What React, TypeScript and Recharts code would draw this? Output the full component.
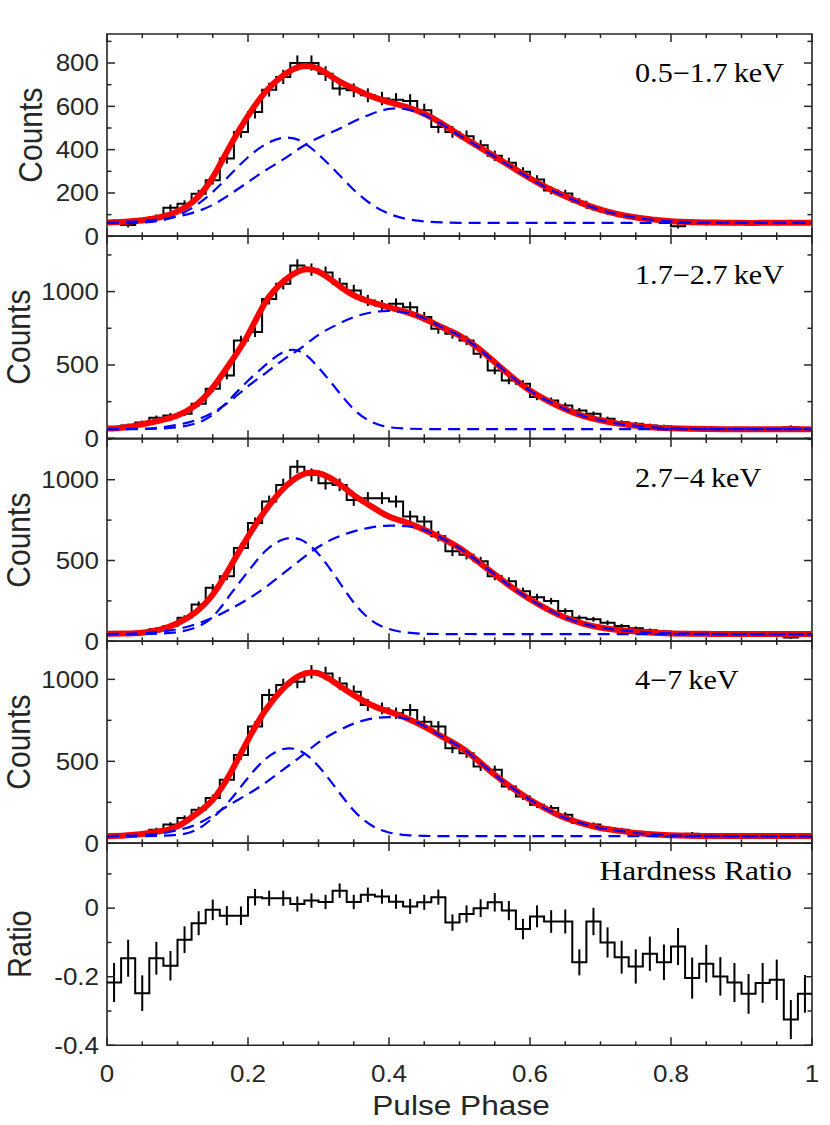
import React from "react";
import { ComposedChart, Line, Scatter, ErrorBar, XAxis, YAxis, ReferenceArea } from "recharts";

// bin centres of the 50 phase bins
const BIN_CENTERS = [
  0.01, 0.03, 0.05, 0.07, 0.09, 0.11, 0.13, 0.15, 0.17, 0.19,
  0.21, 0.23, 0.25, 0.27, 0.29, 0.31, 0.33, 0.35, 0.37, 0.39,
  0.41, 0.43, 0.45, 0.47, 0.49, 0.51, 0.53, 0.55, 0.57, 0.59,
  0.61, 0.63, 0.65, 0.67, 0.69, 0.71, 0.73, 0.75, 0.77, 0.79,
  0.81, 0.83, 0.85, 0.87, 0.89, 0.91, 0.93, 0.95, 0.97, 0.99,
];

// phases where the fitted curves were read
const CURVE_PHASE = [
  0, 0.025, 0.05, 0.075, 0.1, 0.125, 0.15, 0.175, 0.2, 0.225,
  0.25, 0.275, 0.3, 0.325, 0.35, 0.375, 0.4, 0.425, 0.45, 0.475,
  0.5, 0.525, 0.55, 0.575, 0.6, 0.625, 0.65, 0.675, 0.7, 0.725,
  0.75, 0.775, 0.8, 0.825, 0.85, 0.875, 0.9, 0.925, 0.95, 0.975, 1,
];

const X_TICKS = [0, 0.05, 0.1, 0.15, 0.2, 0.25, 0.3, 0.35, 0.4, 0.45, 0.5, 0.55, 0.6, 0.65, 0.7, 0.75, 0.8, 0.85, 0.9, 0.95, 1];
const X_LABELS = [0, 0.2, 0.4, 0.6, 0.8, 1];

// 0.5-1.7 keV
const HIST_1 = [
  66, 52, 72, 88, 132, 150, 197, 259, 359, 482,
  574, 677, 736, 800, 800, 751, 682, 674, 651, 636,
  630, 625, 582, 505, 482, 462, 420, 372, 340, 298,
  262, 212, 198, 160, 132, 112, 98, 88, 80, 72,
  46, 62, 60, 63, 60, 58, 62, 60, 66, 64,
];
const ERR_1 = [
  12, 11, 12, 13, 15, 16, 18, 20, 24, 27,
  30, 32, 33, 35, 35, 34, 32, 32, 32, 31,
  31, 31, 30, 28, 27, 27, 25, 24, 23, 21,
  20, 18, 17, 16, 14, 13, 12, 12, 11, 11,
  10, 11, 10, 10, 10, 10, 10, 10, 10, 10,
];
const TOTAL_1 = [64, 67, 74, 88, 115, 168, 272, 420, 556, 668, 743, 784, 774, 724, 682, 646, 620, 597, 566, 521, 468, 418, 368, 318, 268, 223, 185, 151, 123, 102, 87, 77, 70, 66, 64, 63, 62, 62, 62, 62, 62];
const G1_1 = [62, 62, 64, 72, 96, 140, 205, 285, 365, 425, 455, 440, 378, 298, 215, 148, 104, 80, 69, 64, 62, 62, 62, 62, 62, 62, 62, 62, 62, 62, 62, 62, 62, 62, 62, 62, 62, 62, 62, 62, 62];
const G2_1 = [63, 66, 71, 79, 91, 112, 145, 195, 250, 305, 355, 410, 455, 490, 530, 565, 588, 586, 560, 518, 466, 417, 367, 317, 267, 222, 184, 150, 122, 101, 86, 76, 69, 65, 63, 62, 62, 62, 62, 62, 62];

// 1.7-2.7 keV
const HIST_2 = [
  72, 88, 108, 140, 156, 168, 235, 338, 428, 667,
  724, 950, 1054, 1178, 1150, 1130, 1054, 1008, 940, 906,
  917, 894, 826, 747, 713, 667, 576, 463, 394, 372,
  281, 258, 224, 190, 167, 133, 110, 99, 88, 81,
  72, 66, 64, 62, 60, 63, 62, 60, 76, 65,
];
const ERR_2 = [
  12, 12, 13, 15, 16, 16, 19, 23, 26, 32,
  34, 38, 40, 42, 42, 41, 40, 39, 38, 37,
  37, 37, 35, 34, 33, 32, 30, 27, 25, 24,
  21, 20, 19, 17, 16, 15, 13, 13, 12, 12,
  11, 11, 11, 11, 11, 11, 11, 11, 12, 11,
];
const TOTAL_2 = [66, 74, 96, 120, 155, 222, 345, 515, 705, 930, 1068, 1145, 1135, 1055, 975, 928, 893, 860, 815, 757, 700, 620, 518, 416, 325, 256, 198, 153, 123, 100, 85, 74, 68, 65, 63, 62, 62, 62, 62, 62, 62];
const G1_2 = [62, 62, 63, 66, 76, 100, 160, 270, 392, 500, 588, 590, 482, 338, 198, 112, 76, 66, 63, 62, 62, 62, 62, 62, 62, 62, 62, 62, 62, 62, 62, 62, 62, 62, 62, 62, 62, 62, 62, 62, 62];
const G2_2 = [62, 63, 66, 74, 92, 122, 175, 255, 355, 445, 535, 615, 705, 772, 826, 858, 868, 856, 818, 757, 700, 620, 518, 416, 325, 256, 198, 153, 123, 100, 85, 74, 68, 65, 63, 62, 62, 62, 62, 62, 62];

// 2.7-4 keV
const HIST_3 = [
  43, 43, 53, 74, 95, 146, 228, 331, 403, 577,
  732, 865, 968, 1081, 1030, 978, 968, 875, 886, 886,
  865, 773, 742, 650, 557, 536, 495, 403, 372, 310,
  273, 249, 187, 146, 136, 115, 95, 80, 68, 60,
  53, 47, 47, 45, 47, 45, 43, 45, 23, 39,
];
const ERR_3 = [
  10, 10, 11, 12, 13, 15, 19, 23, 25, 30,
  34, 37, 39, 41, 40, 39, 39, 37, 37, 37,
  37, 35, 34, 32, 30, 29, 28, 25, 24, 22,
  21, 20, 17, 15, 15, 14, 13, 12, 11, 11,
  10, 10, 10, 10, 10, 10, 10, 10, 8, 9,
];
const TOTAL_3 = [46, 48, 53, 72, 112, 178, 290, 462, 648, 812, 944, 1028, 1040, 988, 905, 835, 772, 735, 690, 638, 577, 497, 414, 332, 260, 198, 147, 110, 85, 70, 60, 53, 49, 47, 46, 45, 45, 45, 45, 45, 45];
const G1_3 = [44, 44, 45, 48, 57, 84, 152, 290, 432, 560, 630, 628, 540, 395, 240, 130, 76, 54, 47, 45, 45, 45, 45, 45, 45, 45, 45, 45, 45, 45, 45, 45, 45, 45, 45, 45, 45, 45, 45, 45, 45];
const G2_3 = [45, 46, 50, 58, 75, 104, 146, 200, 262, 335, 420, 505, 585, 642, 680, 705, 716, 712, 690, 638, 577, 497, 414, 332, 260, 198, 147, 110, 85, 70, 60, 53, 49, 47, 46, 45, 45, 45, 45, 45, 45];

// 4-7 keV
const HIST_4 = [
  43, 43, 59, 83, 114, 154, 205, 276, 387, 539,
  712, 904, 965, 986, 1046, 1036, 975, 925, 844, 823,
  793, 813, 742, 712, 580, 550, 468, 448, 347, 286,
  235, 215, 174, 124, 114, 93, 83, 67, 59, 53,
  47, 59, 45, 43, 45, 43, 43, 45, 43, 43,
];
const ERR_4 = [
  10, 10, 11, 12, 14, 16, 18, 21, 25, 29,
  33, 38, 39, 40, 41, 41, 39, 38, 37, 36,
  35, 36, 34, 33, 30, 29, 27, 26, 23, 21,
  19, 18, 16, 14, 13, 12, 12, 11, 10, 10,
  10, 10, 10, 10, 10, 10, 10, 10, 10, 10,
];
const TOTAL_4 = [43, 48, 57, 73, 103, 174, 266, 428, 631, 813, 945, 1026, 1036, 975, 904, 844, 803, 763, 712, 651, 590, 509, 418, 337, 266, 205, 154, 120, 93, 77, 63, 55, 49, 46, 45, 44, 44, 44, 44, 44, 44];
const G1_4 = [43, 43, 44, 46, 52, 78, 155, 265, 400, 515, 575, 562, 470, 335, 200, 110, 66, 50, 45, 44, 44, 44, 44, 44, 44, 44, 44, 44, 44, 44, 44, 44, 44, 44, 44, 44, 44, 44, 44, 44, 44];
const G2_4 = [44, 46, 50, 60, 80, 112, 170, 238, 300, 370, 450, 530, 615, 680, 730, 760, 770, 760, 715, 651, 590, 509, 418, 337, 266, 205, 154, 120, 93, 77, 63, 55, 49, 46, 45, 44, 44, 44, 44, 44, 44];

// hardness ratio
const RATIO = [
  -0.217, -0.146, -0.248, -0.146, -0.168, -0.092, -0.044, -0.005, -0.022, -0.022,
  0.032, 0.029, 0.029, 0.012, 0.022, 0.018, 0.051, 0.018, 0.039, 0.034,
  0.019, 0.005, 0.017, 0.032, -0.042, -0.017, 0.0, 0.017, -0.007, -0.061,
  -0.024, -0.039, -0.039, -0.158, -0.039, -0.1, -0.143, -0.17, -0.133, -0.158,
  -0.112, -0.204, -0.162, -0.199, -0.217, -0.25, -0.218, -0.209, -0.325, -0.25,
];
const RATIO_ERR = [
  0.057, 0.054, 0.052, 0.048, 0.043, 0.039, 0.035, 0.03, 0.028, 0.027,
  0.024, 0.022, 0.022, 0.022, 0.021, 0.021, 0.021, 0.021, 0.021, 0.021,
  0.021, 0.022, 0.022, 0.022, 0.024, 0.025, 0.026, 0.027, 0.028, 0.03,
  0.032, 0.033, 0.035, 0.038, 0.04, 0.044, 0.048, 0.05, 0.05, 0.052,
  0.054, 0.06, 0.055, 0.056, 0.057, 0.058, 0.058, 0.059, 0.057, 0.055,
];

const AXIS = "#262626";
const SANS = "'Liberation Sans', Arial, sans-serif";
const SERIF = "'Liberation Serif', 'Times New Roman', serif";
const STRETCH = 1.13;

const LEFT = 107;
const RIGHT_GAP = 18;
const PLOT_W = 705;
const PLOT_H = 202.3;
const PAD = 30;
const BOTTOM_EXTRA = 80;

const panels = [
  { top: 34, yMin: 0, yMax: 934, yTicks: [0, 100, 200, 300, 400, 500, 600, 700, 800, 900], yLabels: [0, 200, 400, 600, 800], hist: HIST_1, err: ERR_1, total: TOTAL_1, g1: G1_1, g2: G2_1, tag: "0.5\u22121.7\u2009keV", title: "Counts", titleX: 42, titleSize: 30 },
  { top: 236.3, yMin: 0, yMax: 1379, yTicks: [0, 250, 500, 750, 1000, 1250], yLabels: [0, 500, 1000], hist: HIST_2, err: ERR_2, total: TOTAL_2, g1: G1_2, g2: G2_2, tag: "1.7\u22122.7\u2009keV", title: "Counts", titleX: 29.5, titleSize: 30 },
  { top: 438.6, yMin: 0, yMax: 1252, yTicks: [0, 250, 500, 750, 1000, 1250], yLabels: [0, 500, 1000], hist: HIST_3, err: ERR_3, total: TOTAL_3, g1: G1_3, g2: G2_3, tag: "2.7\u22124\u2009keV", title: "Counts", titleX: 29.5, titleSize: 30 },
  { top: 640.9, yMin: 0, yMax: 1234, yTicks: [0, 250, 500, 750, 1000], yLabels: [0, 500, 1000], hist: HIST_4, err: ERR_4, total: TOTAL_4, g1: G1_4, g2: G2_4, tag: "4\u22127\u2009keV", title: "Counts", titleX: 29.5, titleSize: 30 },
  { top: 843.2, yMin: -0.4, yMax: 0.19, yTicks: [-0.4, -0.3, -0.2, -0.1, 0, 0.1], yLabels: [-0.4, -0.2, 0], hist: RATIO, err: RATIO_ERR, total: null, g1: null, g2: null, tag: "", title: "Ratio", titleX: 30.5, titleSize: 29 },
];

function XTick(props: any) {
  const { x, y, payload, labelled } = props;
  const v = payload.value;
  const major = X_LABELS.includes(v);
  const len = major ? 8 : 4;
  return (
    <g>
      <line x1={x} x2={x} y1={y} y2={y - len} stroke={AXIS} strokeWidth={1.5} />
      <line x1={x} x2={x} y1={y - PLOT_H} y2={y - PLOT_H + len} stroke={AXIS} strokeWidth={1.5} />
      {labelled && major && (
        <text transform={`translate(${x},${y + 36.5}) scale(${STRETCH},1)`} textAnchor="middle" fontFamily={SANS} fontSize={23} fill={AXIS}>
          {String(v)}
        </text>
      )}
    </g>
  );
}

function YTick(props: any) {
  const { x, y, payload, labels } = props;
  const v = payload.value;
  const major = labels.includes(v);
  const len = major ? 8 : 4.5;
  return (
    <g>
      <line x1={x} x2={x + len} y1={y} y2={y} stroke={AXIS} strokeWidth={1.5} />
      <line x1={x + PLOT_W} x2={x + PLOT_W - len} y1={y} y2={y} stroke={AXIS} strokeWidth={1.5} />
      {major && (
        <text transform={`translate(${x - 8},${y + 8.3}) scale(${STRETCH},1)`} textAnchor="end" fontFamily={SANS} fontSize={23} fill={AXIS}>
          {String(v)}
        </text>
      )}
    </g>
  );
}

function YTitle({ text, bx, size }: { text: string; bx: number; size: number }) {
  const cy = PAD + PLOT_H / 2;
  return (
    <text transform={`translate(${bx},${cy}) scale(${STRETCH},1) rotate(-90)`} textAnchor="middle" fontFamily={SANS} fontSize={size} fill={AXIS}>
      {text}
    </text>
  );
}

function PanelTag({ text }: { text: string }) {
  if (text) {
    return (
      <text transform={`translate(635,${PAD + 48}) scale(1.12,1)`} fontFamily={SERIF} fontSize={27} fill="#000">
        {text}
      </text>
    );
  }
  return (
    <text transform={`translate(792,${PAD + 37.5}) scale(1.12,1)`} textAnchor="end" fontFamily={SERIF} fontSize={28} fill="#000">
      Hardness Ratio
    </text>
  );
}

function XTitle() {
  return (
    <text transform={`translate(461,${PAD + 271.8}) scale(${STRETCH},1)`} textAnchor="middle" fontFamily={SANS} fontSize={28} fill={AXIS}>
      Pulse Phase
    </text>
  );
}

function curve(values: number[]) {
  return CURVE_PHASE.map((p, i) => ({ x: p, y: values[i] }));
}

function Panel({ p, last }: { p: any; last: boolean }) {
  const bottom = last ? BOTTOM_EXTRA : PAD;
  const height = PLOT_H + PAD + bottom;
  const stairs = BIN_CENTERS.map((c, i) => ({ x: Number((c - 0.01).toFixed(2)), y: p.hist[i] }));
  stairs.push({ x: 1, y: p.hist[p.hist.length - 1] });
  const points = BIN_CENTERS.map((c, i) => ({ x: c, y: p.hist[i], err: p.err[i] }));

  return (
    <div style={{ position: "absolute", left: 0, top: p.top - PAD }}>
      <ComposedChart width={830} height={height} margin={{ top: PAD, right: RIGHT_GAP, bottom: bottom - 1, left: LEFT - 1 }}>
        <XAxis
          type="number"
          dataKey="x"
          domain={[0, 1]}
          ticks={X_TICKS}
          interval={0}
          height={1}
          tickSize={0}
          tickMargin={0}
          axisLine={false}
          tickLine={false}
          allowDataOverflow
          tick={(t: any) => <XTick {...t} labelled={last} />}
          label={last ? <XTitle /> : undefined}
        />
        <YAxis
          type="number"
          domain={[p.yMin, p.yMax]}
          ticks={p.yTicks}
          interval={0}
          width={1}
          tickSize={0}
          tickMargin={0}
          axisLine={false}
          tickLine={false}
          allowDataOverflow
          tick={(t: any) => <YTick {...t} labels={p.yLabels} />}
          label={<YTitle text={p.title} bx={p.titleX} size={p.titleSize} />}
        />
        <ReferenceArea
          x1={0}
          x2={1}
          y1={p.yMin}
          y2={p.yMax}
          fill="none"
          fillOpacity={0}
          stroke={AXIS}
          strokeWidth={1.6}
          label={<PanelTag text={p.tag} />}
        />
        <Line data={stairs} dataKey="y" type="stepAfter" stroke="#000" strokeWidth={2} dot={false} activeDot={false} isAnimationActive={false} />
        <Scatter data={points} dataKey="y" shape={() => <g />} isAnimationActive={false}>
          <ErrorBar dataKey="err" direction="y" width={0} stroke="#000" strokeWidth={2} isAnimationActive={false} />
        </Scatter>
        {p.total && (
          <Line data={curve(p.total)} dataKey="y" type="natural" stroke="#ff0000" strokeWidth={6} dot={false} activeDot={false} isAnimationActive={false} />
        )}
        {p.g1 && (
          <Line data={curve(p.g1)} dataKey="y" type="natural" stroke="#0000ff" strokeWidth={2.2} strokeDasharray="12 7" dot={false} activeDot={false} isAnimationActive={false} />
        )}
        {p.g2 && (
          <Line data={curve(p.g2)} dataKey="y" type="natural" stroke="#0000ff" strokeWidth={2.2} strokeDasharray="12 7" dot={false} activeDot={false} isAnimationActive={false} />
        )}
      </ComposedChart>
    </div>
  );
}

export default function App() {
  return (
    <div style={{ position: "absolute", left: 0, top: 0, width: 830, height: 1125, overflow: "hidden", background: "#fff" }}>
      {panels.map((p, i) => (
        <Panel key={i} p={p} last={i === panels.length - 1} />
      ))}
    </div>
  );
}
